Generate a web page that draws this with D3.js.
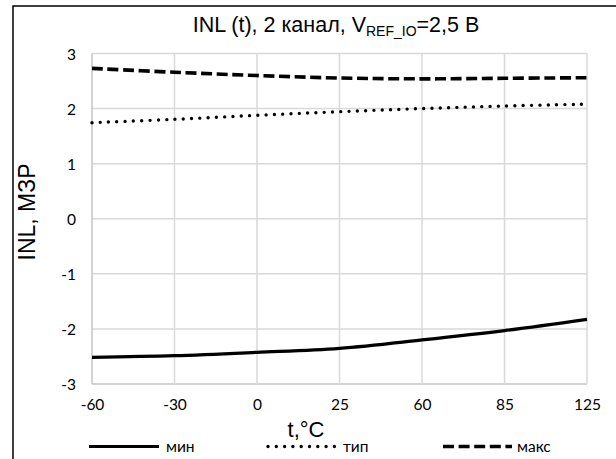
<!DOCTYPE html>
<html>
<head>
<meta charset="utf-8">
<script src="https://cdn.jsdelivr.net/npm/d3@7"></script>
<style>
  html, body { margin: 0; padding: 0; background: #fff; }
  svg { display: block; }
</style>
</head>
<body>
<svg id="chart" width="616" height="459"></svg>
<script>
const categories = ["-60", "-30", "0", "25", "60", "85", "125"];
const minValues = [-2.516, -2.486, -2.425, -2.352, -2.20, -2.03, -1.826];
const typValues = [1.744, 1.805, 1.878, 1.943, 2.00, 2.047, 2.08];
const maxValues = [2.73, 2.66, 2.60, 2.555, 2.54, 2.55, 2.56];
const yTicks = [-3, -2, -1, 0, 1, 2, 3];
const seriesNames = ["мин", "тип", "макс"];

const svg = d3.select("#chart");
const plot = { left: 92, right: 587, top: 53.5, bottom: 384 };

// outer chart border
svg.append("rect").attr("x", 13).attr("y", 6).attr("width", 700).attr("height", 600)
  .attr("fill", "#fff").attr("stroke", "#000").attr("stroke-width", 1.5);

const x = d3.scalePoint().domain(categories).range([plot.left, plot.right]);
const y = d3.scaleLinear().domain([-3, 3]).range([plot.bottom, plot.top]);

// gridlines
svg.append("g").selectAll("line.h").data(yTicks).join("line")
  .attr("x1", plot.left).attr("x2", plot.right)
  .attr("y1", d => y(d)).attr("y2", d => y(d))
  .attr("stroke", d => d === -3 ? "#c4c4c4" : "#d9d9d9").attr("stroke-width", 1.5);
svg.append("g").selectAll("line.v").data(categories).join("line")
  .attr("x1", d => x(d)).attr("x2", d => x(d))
  .attr("y1", plot.top).attr("y2", plot.bottom)
  .attr("stroke", (d, i) => i === 0 ? "#c4c4c4" : "#d9d9d9").attr("stroke-width", 1.5);

// axes labels using d3 axes
const tickFont = "Lato, sans-serif";
const yAxis = svg.append("g").attr("transform", `translate(${plot.left},0)`)
  .call(d3.axisLeft(y).tickValues(yTicks).tickSize(0).tickPadding(16).tickFormat(d3.format("d")));
yAxis.select(".domain").remove();
yAxis.selectAll("text").attr("font-family", tickFont).attr("font-size", 15.5).attr("fill", "#000")
  .attr("dy", "0.36em").text(d => d < 0 ? "-" + Math.abs(d) : d);

const xAxis = svg.append("g").attr("transform", `translate(0,${plot.bottom})`)
  .call(d3.axisBottom(x).tickSize(0).tickPadding(15));
xAxis.select(".domain").remove();
xAxis.selectAll("text").attr("font-family", tickFont).attr("font-size", 15.5).attr("fill", "#000");

// series
const lineGen = d3.line().x((d, i) => x(categories[i])).y(d => y(d)).curve(d3.curveCatmullRom.alpha(0));
const styles = [
  { data: minValues, dash: null, width: 3.2, cap: "butt" },
  { data: typValues, dash: "0,8.3", width: 3.4, cap: "round" },
  { data: maxValues, dash: "11,4.6", width: 3.6, cap: "butt" }
];
styles.forEach(s => {
  svg.append("path").datum(s.data).attr("d", lineGen)
    .attr("fill", "none").attr("stroke", "#000").attr("stroke-width", s.width)
    .attr("stroke-linecap", s.cap).attr("stroke-dasharray", s.dash);
});

// title
const title = svg.append("text").attr("x", 336).attr("y", 32).attr("text-anchor", "middle")
  .attr("font-family", "Liberation Sans, Arial, sans-serif").attr("font-size", 21.5).attr("fill", "#000");
title.append("tspan").text("INL (t), 2 канал, V");
title.append("tspan").attr("font-size", 14).attr("dy", 4).text("REF_IO");
title.append("tspan").attr("dy", -4).text("=2,5 В");

// axis titles
svg.append("text").attr("x", 306).attr("y", 437).attr("text-anchor", "middle")
  .attr("font-family", "Liberation Sans, Arial, sans-serif").attr("font-size", 22).text("t,°C");
svg.append("text").attr("transform", "translate(35,212) rotate(-90)").attr("text-anchor", "middle")
  .attr("font-family", "Liberation Sans, Arial, sans-serif").attr("font-size", 23).text("INL, МЗР");

// legend
const legendX = [{ x1: 89, x2: 159, tx: 166 }, { x1: 268, x2: 340, tx: 343 }, { x1: 443, x2: 512, tx: 517 }];
const legendY = 446.5;
styles.forEach((s, i) => {
  const L = legendX[i];
  svg.append("line").attr("x1", L.x1).attr("x2", L.x2).attr("y1", legendY).attr("y2", legendY)
    .attr("stroke", "#000").attr("stroke-width", s.width).attr("stroke-linecap", s.cap)
    .attr("stroke-dasharray", s.dash);
  svg.append("text").attr("x", L.tx).attr("y", legendY).attr("dy", "0.36em")
    .attr("font-family", tickFont).attr("font-size", 15.5).text(seriesNames[i]);
});
</script>
</body>
</html>
